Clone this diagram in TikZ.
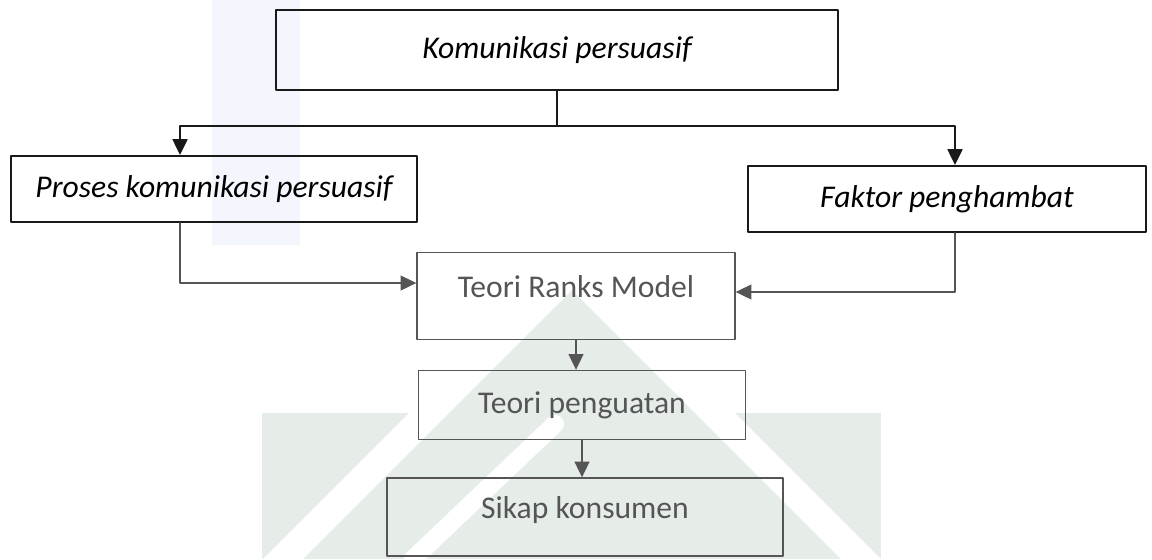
\documentclass[tikz,border=0pt]{standalone}
\usepackage{fontspec}
\setmainfont{Carlito}
\usetikzlibrary{arrows.meta}
\definecolor{inkgrey}{RGB}{85,85,85}
\definecolor{markgrey}{RGB}{230,237,233}
\definecolor{stripblue}{RGB}{243,246,252}
\tikzset{
  topbox/.style={draw=black!90,line width=1.1pt,inner sep=0pt,font=\fontsize{18}{21}\selectfont\itshape},
  lowbox/.style={draw=inkgrey,line width=0.8pt,inner sep=0pt,text=inkgrey,font=\fontsize{18}{21}\selectfont},
  blackline/.style={draw=black!90,line width=1.1pt},
  greyline/.style={draw=inkgrey,line width=0.9pt}
}

\begin{document}
\begin{tikzpicture}[line cap=round,line join=round,>={Triangle[width=8.5pt,length=9pt]},x=0.02cm,y=-0.02cm]%框图
			\useasboundingbox (0,0) rectangle (1152,559);
			% watermark
			\fill [stripblue] (212,0) rectangle (300,245);
			\fill [markgrey] (262,413) rectangle (881,559);
			\fill [white] (572,250) -- (881,559) -- (263,559) -- cycle;
			\fill [markgrey] (572,290) -- (841,559) -- (303,559) -- cycle;
			\draw [white,line width=0.36cm] (413,559) -- (555,424);
			% boxes
			\node [topbox,minimum width=11.24cm,minimum height=1.6cm] (kom) at (557,50) {Komunikasi persuasif};
			\node [topbox,minimum width=8.12cm,minimum height=1.32cm] (proses) at (214,189) {Proses komunikasi persuasif};
			\node [topbox,minimum width=7.96cm,minimum height=1.32cm] (faktor) at (947,199) {Faktor penghambat};
			\node [lowbox,minimum width=6.36cm,minimum height=1.74cm,text depth=0.36cm] (ranks) at (576,296) {Teori Ranks Model};
			\node [lowbox,minimum width=6.54cm,minimum height=1.38cm] (peng) at (582,405) {Teori penguatan};
			\node [lowbox,minimum width=7.92cm,minimum height=1.56cm,text depth=0.37cm] (sikap) at (585,517) {Sikap konsumen};
			% arrows
			\coordinate (fork) at ([yshift=-0.7cm]kom.south);
			\draw [blackline] (kom.south) -- (fork);
			\draw [blackline,->] (fork) -| ([xshift=-0.68cm]proses.north);
			\draw [blackline,->] (fork) -| ([xshift=0.16cm]faktor.north);
			\draw [greyline,->] ([xshift=-0.68cm]proses.south) |- ([yshift=0.26cm]ranks.west);
			\draw [greyline,->] ([xshift=0.16cm]faktor.south) |- ([yshift=0.08cm]ranks.east);
			\draw [greyline,->] (ranks.south) -- (ranks.south |- peng.north);
			\draw [greyline,->] (peng.south) -- (peng.south |- sikap.north);
		\end{tikzpicture}
\end{document}
